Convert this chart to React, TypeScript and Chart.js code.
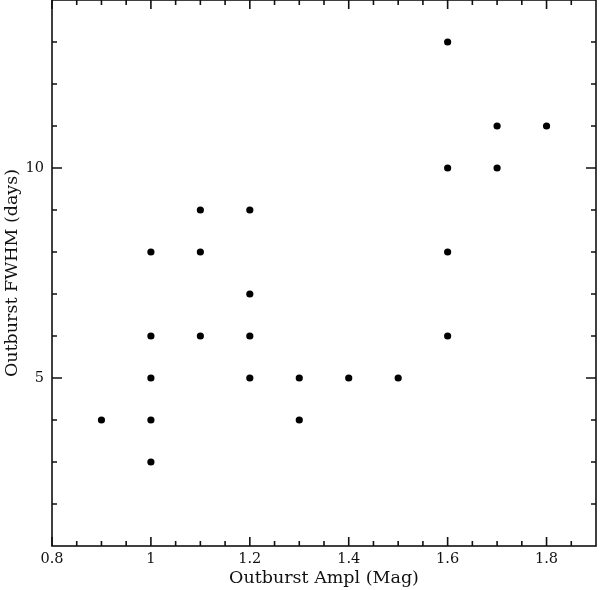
import { useEffect, useRef } from "react";
import { Chart, registerables, ChartConfiguration, Plugin } from "chart.js";

Chart.register(...registerables);

const amplitudes: number[] = [
  0.9, 1.0, 1.0, 1.0, 1.0, 1.0, 1.1, 1.1, 1.1, 1.2, 1.2, 1.2, 1.2, 1.3, 1.3,
  1.4, 1.5, 1.6, 1.6, 1.6, 1.6, 1.7, 1.7, 1.8,
];
const fwhmDays: number[] = [
  4, 3, 4, 5, 6, 8, 6, 8, 9, 5, 6, 7, 9, 4, 5, 5, 5, 6, 8, 10, 13, 10, 11, 11,
];

const xMajorTicks: number[] = [0.8, 1.0, 1.2, 1.4, 1.6, 1.8];
const xMinorTicks: number[] = [
  0.85, 0.9, 0.95, 1.05, 1.1, 1.15, 1.25, 1.3, 1.35, 1.45, 1.5, 1.55, 1.65,
  1.7, 1.75, 1.85,
];
const yMajorTicks: number[] = [5, 10];
const yMinorTicks: number[] = [2, 3, 4, 6, 7, 8, 9, 11, 12, 13];

const xTitle = "Outburst Ampl (Mag)";
const yTitle = "Outburst FWHM (days)";

const inkColor = "#111";
const labelFont = "'DejaVu Serif', serif";

// frame + inward ticks on all four sides, PGPLOT style
const frameTicks: Plugin<"scatter"> = {
  id: "frameTicks",
  afterDraw(chart) {
    const { ctx, chartArea } = chart;
    const xs = chart.scales.x;
    const ys = chart.scales.y;
    const { left, right, top, bottom } = chartArea;
    ctx.save();
    ctx.strokeStyle = inkColor;
    ctx.lineWidth = 1.6;
    ctx.strokeRect(left, top, right - left, bottom - top);
    const xTick = (v: number, len: number) => {
      const px = xs.getPixelForValue(v);
      ctx.moveTo(px, bottom);
      ctx.lineTo(px, bottom - len);
      ctx.moveTo(px, top);
      ctx.lineTo(px, top + len);
    };
    const yTick = (v: number, len: number) => {
      const py = ys.getPixelForValue(v);
      ctx.moveTo(left, py);
      ctx.lineTo(left + len, py);
      ctx.moveTo(right, py);
      ctx.lineTo(right - len, py);
    };
    ctx.beginPath();
    xMajorTicks.forEach((v) => xTick(v, 9));
    xMinorTicks.forEach((v) => xTick(v, 5));
    yMajorTicks.forEach((v) => yTick(v, 10));
    yMinorTicks.forEach((v) => yTick(v, 5));
    ctx.stroke();
    ctx.restore();
  },
};

function ScatterPlot() {
  const canvasRef = useRef<HTMLCanvasElement | null>(null);

  useEffect(() => {
    document.body.style.margin = "0";
    if (!canvasRef.current) return;
    const context = canvasRef.current.getContext("2d");
    if (!context) return;

    const config: ChartConfiguration<"scatter"> = {
      type: "scatter",
      data: {
        datasets: [
          {
            data: amplitudes.map((a, i) => ({ x: a, y: fwhmDays[i] })),
            backgroundColor: "#000",
            borderColor: "#000",
            pointRadius: 3.6,
            pointBorderWidth: 0,
          },
        ],
      },
      options: {
        responsive: false,
        animation: false,
        layout: { padding: { top: 0, right: 1, left: 0, bottom: 0 } },
        plugins: {
          legend: { display: false },
          tooltip: { enabled: false },
        },
        scales: {
          x: {
            type: "linear",
            min: 0.8,
            max: 1.9,
            grid: { display: false, drawTicks: false },
            border: { display: false },
            afterBuildTicks: (scale) => {
              scale.ticks = xMajorTicks.map((v) => ({ value: v }));
            },
            afterFit: (scale) => {
              scale.height = 44;
              scale.paddingLeft = 0;
              scale.paddingRight = 0;
            },
            ticks: {
              padding: 5,
              color: inkColor,
              font: { family: labelFont, size: 14.5 },
              callback: (v) => String(v),
            },
            title: {
              display: true,
              text: xTitle,
              color: inkColor,
              font: { family: labelFont, size: 17.5 },
              padding: { top: 0, bottom: 1 },
            },
          },
          y: {
            type: "linear",
            min: 1,
            max: 14,
            grid: { display: false, drawTicks: false },
            border: { display: false },
            afterBuildTicks: (scale) => {
              scale.ticks = yMajorTicks.map((v) => ({ value: v }));
            },
            afterFit: (scale) => {
              scale.width = 52;
              scale.paddingTop = 0;
              scale.paddingBottom = 0;
            },
            ticks: {
              padding: 8,
              color: inkColor,
              font: { family: labelFont, size: 14.5 },
              callback: (v) => String(v),
            },
            title: {
              display: true,
              text: yTitle,
              color: inkColor,
              font: { family: labelFont, size: 17.5 },
              padding: { top: 2, bottom: 0 },
            },
          },
        },
      },
      plugins: [frameTicks],
    };

    const chart = new Chart(context, config);
    return () => {
      chart.destroy();
    };
  }, []);

  return (
    <div
      style={{
        width: 600,
        height: 590,
        overflow: "hidden",
        background: "#fff",
      }}
    >
      <canvas
        ref={canvasRef}
        width={600}
        height={594}
        style={{ display: "block", marginTop: -4 }}
      />
    </div>
  );
}

export default function App() {
  return <ScatterPlot />;
}
